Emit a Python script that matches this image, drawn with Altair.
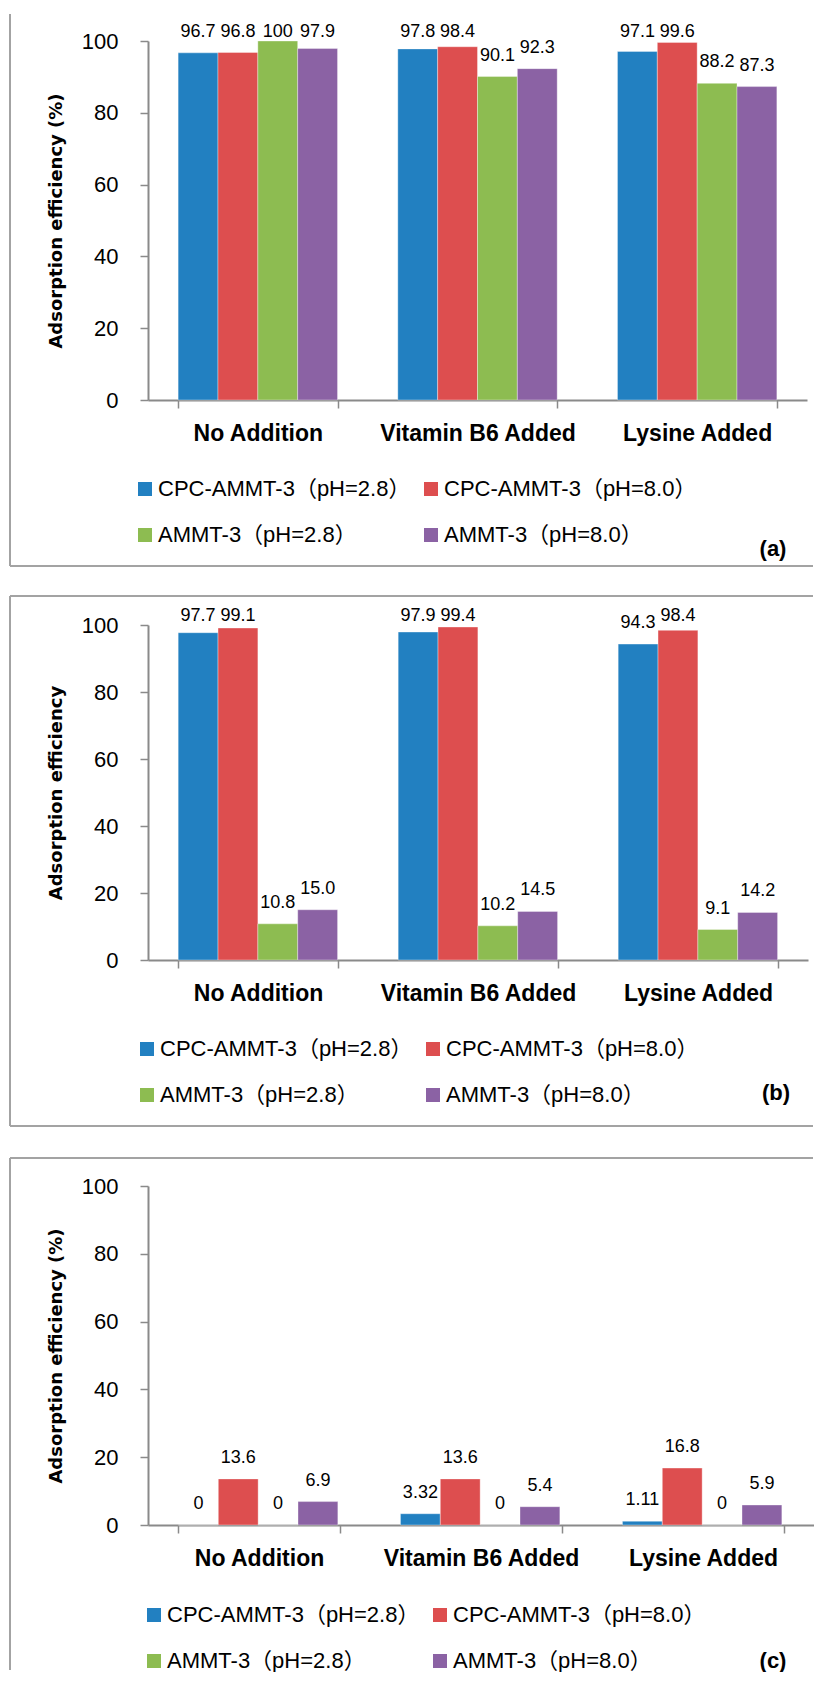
import altair as alt
import pandas as pd

categories = ["No Addition", "Vitamin B6 Added", "Lysine Added"]
series = ["CPC-AMMT-3（pH=2.8）", "CPC-AMMT-3（pH=8.0）", "AMMT-3（pH=2.8）", "AMMT-3（pH=8.0）"]
colors = ["#2280C1", "#DD4E4F", "#8DBC51", "#8B62A4"]

# panel (a)
a_cpc_28 = [96.7, 97.8, 97.1]
a_cpc_80 = [96.8, 98.4, 99.6]
a_ammt_28 = [100, 90.1, 88.2]
a_ammt_80 = [97.9, 92.3, 87.3]

# panel (b)
b_cpc_28 = [97.7, 97.9, 94.3]
b_cpc_80 = [99.1, 99.4, 98.4]
b_ammt_28 = [10.8, 10.2, 9.1]
b_ammt_80 = [15.0, 14.5, 14.2]

# panel (c)
c_cpc_28 = [0, 3.32, 1.11]
c_cpc_80 = [13.6, 13.6, 16.8]
c_ammt_28 = [0, 0, 0]
c_ammt_80 = [6.9, 5.4, 5.9]

y_ticks = [0, 20, 40, 60, 80, 100]

FONT = "Liberation Sans, Arial, Noto Sans CJK SC"
AXIS_GRAY = "#8a8a8a"
BORDER_GRAY = "#a3a3a3"


def long_df(cols):
    rows = []
    for s, vals in zip(series, cols):
        for c, v in zip(categories, vals):
            rows.append({"category": c, "series": s, "value": v})
    return pd.DataFrame(rows)


def panel(cols, W, H, ytitle, tag, tag_xy, fmt, legend_xy, rules):
    df = long_df(cols)
    off = 16 * 100 / H
    cap = 100 + 4.5 * 100 / H
    base = alt.Chart(df).transform_calculate(
        label_y=f"min(datum.value + {off}, {cap})"
    )
    xaxis = alt.Axis(
        title=None, labelAngle=0, labelFont=FONT, labelFontWeight="bold",
        labelFontSize=23, labelColor="black", tickBand="extent", tickSize=8,
        labelPadding=14, domainColor=AXIS_GRAY, tickColor=AXIS_GRAY,
        domainWidth=2, tickWidth=1.5, labelLimit=400,
    )
    yaxis = alt.Axis(
        values=y_ticks, title=ytitle, titleFont="DejaVu Sans", titleFontSize=18,
        titleFontWeight="bold", titleColor="black", titleAngle=270,
        titleX=-92, titleY=H / 2, titleAlign="center", titleBaseline="middle",
        labelFont=FONT, labelFontSize=22, labelColor="black", labelPadding=22,
        tickSize=8, grid=False, domainColor=AXIS_GRAY, tickColor=AXIS_GRAY,
        domainWidth=2, tickWidth=1.5,
    )
    xenc = alt.X("category:N", sort=categories,
                 scale=alt.Scale(paddingInner=0.2744, paddingOuter=0.1372), axis=xaxis)
    xoff = alt.XOffset("series:N", sort=series)
    yscale = alt.Scale(domain=[0, 100], nice=False)
    bars = base.mark_bar(stroke="white", strokeWidth=0.5, strokeOpacity=0.7).encode(
        x=xenc, xOffset=xoff,
        y=alt.Y("value:Q", scale=yscale, axis=yaxis),
        color=alt.Color(
            "series:N", sort=series,
            scale=alt.Scale(domain=series, range=colors),
            legend=alt.Legend(
                title=None, orient="none", legendX=legend_xy[0], legendY=legend_xy[1],
                columns=2, direction="horizontal", symbolType="square", symbolSize=196,
                symbolStrokeWidth=0, labelFont=FONT, labelFontSize=22,
                labelColor="black", labelOffset=2, columnPadding=9, rowPadding=24,
                labelLimit=400, symbolOpacity=1,
            ),
        ),
    )
    text = base.mark_text(baseline="alphabetic", fontSize=18, font=FONT, color="black").encode(
        x=xenc, xOffset=xoff,
        y=alt.Y("label_y:Q", scale=yscale, axis=yaxis),
        text=alt.Text("value:Q", format=fmt),
    )
    dummy = pd.DataFrame({"k": [0]})
    layers = [bars, text]
    for r in rules:
        enc = {k: alt.value(v) for k, v in r.items()}
        layers.append(
            alt.Chart(dummy).mark_rule(color=BORDER_GRAY, strokeWidth=2).encode(**enc)
        )
    layers.append(
        alt.Chart(dummy).mark_text(
            font=FONT, fontSize=22, fontWeight="bold", color="black",
            align="center", baseline="middle",
        ).encode(x=alt.value(tag_xy[0]), y=alt.value(tag_xy[1]), text=alt.value(tag))
    )
    return alt.layer(*layers).properties(width=W, height=H)


RIGHT = 665
pa = panel([a_cpc_28, a_cpc_80, a_ammt_28, a_ammt_80], 659, 359,
           "Adsorption efficiency (%)", "(a)", (625, 508), "",
           (-14, 437),
           [dict(x=-138, y=-27, y2=525), dict(x=-138, x2=RIGHT, y=525)])
pb = panel([b_cpc_28, b_cpc_80, b_ammt_28, b_ammt_80], 660, 335,
           "Adsorption efficiency", "(b)", (628, 468), ".1f",
           (-12, 413),
           [dict(x=-138, y=-29, y2=501), dict(x=-138, x2=RIGHT, y=-29),
            dict(x=-138, x2=RIGHT, y=501)])
pc = panel([c_cpc_28, c_cpc_80, c_ammt_28, c_ammt_80], 666, 339,
           "Adsorption efficiency (%)", "(c)", (625, 475), "",
           (-5, 418),
           [dict(x=-138, y=-28, y2=484), dict(x=-138, x2=RIGHT, y=-28)])

top = alt.vconcat(pa, pb, spacing=28).resolve_scale(color="independent").resolve_legend(color="independent")
chart = alt.vconcat(top, pc, spacing=30).resolve_scale(
    color="independent").resolve_legend(color="independent").properties(
    padding={"left": 1, "top": 5, "right": 0, "bottom": 0}
).configure(background="white").configure_view(stroke=None)

chart.save("out.html", embed_options={"renderer": "svg", "actions": False})
